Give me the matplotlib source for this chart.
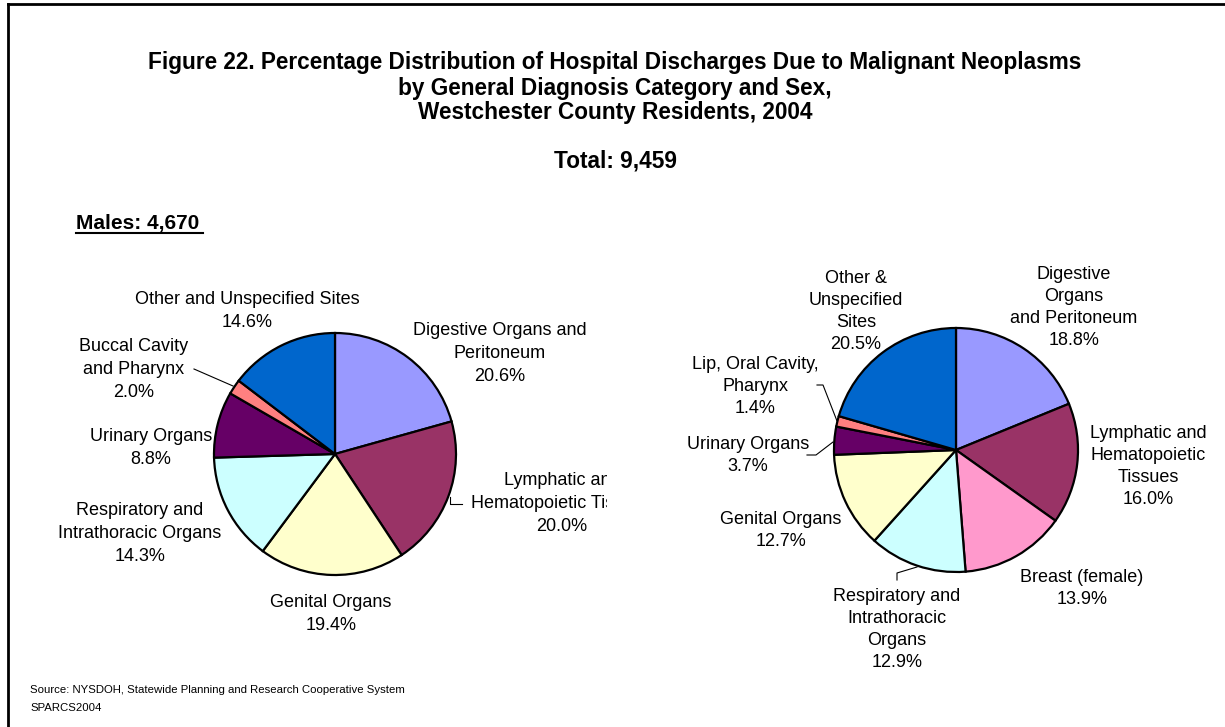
import matplotlib
matplotlib.use("Agg")
import matplotlib.pyplot as plt
from matplotlib.transforms import Affine2D, Bbox, TransformedBbox
from matplotlib.lines import Line2D

plt.rcParams['font.family'] = ['Liberation Sans', 'DejaVu Sans']

# ---------------- data ----------------
title_lines = ["Figure 22. Percentage Distribution of Hospital Discharges Due to Malignant Neoplasms",
               "by General Diagnosis Category and Sex,",
               "Westchester County Residents, 2004"]
total_text = "Total: 9,459"
males_text = "Males: 4,670"
source_lines = ["Source: NYSDOH, Statewide Planning and Research Cooperative System", "SPARCS2004"]

male_categories = ["Digestive Organs and\nPeritoneum", "Lymphatic and\nHematopoietic Tissues",
                   "Genital Organs", "Respiratory and\nIntrathoracic Organs", "Urinary Organs",
                   "Buccal Cavity\nand Pharynx", "Other and Unspecified Sites"]
male_values = [20.6, 20.0, 19.4, 14.3, 8.8, 2.0, 14.6]

female_categories = ["Digestive\nOrgans\nand Peritoneum", "Lymphatic and\nHematopoietic\nTissues",
                     "Breast (female)", "Respiratory and\nIntrathoracic\nOrgans", "Genital Organs",
                     "Urinary Organs", "Lip, Oral Cavity,\nPharynx", "Other &\nUnspecified\nSites"]
female_values = [18.8, 16.0, 13.9, 12.9, 12.7, 3.7, 1.4, 20.5]

# ---------------- styles / layout ----------------
male_colors = ["#9999FF", "#993366", "#FFFFCC", "#CCFFFF", "#660066", "#FF8080", "#0066CC"]
female_colors = ["#9999FF", "#993366", "#FF99CC", "#CCFFFF", "#FFFFCC", "#660066", "#FF8080", "#0066CC"]

W, H = 1225, 727
fig = plt.figure(figsize=(W / 100, H / 100), dpi=100)
fig.patch.set_facecolor("white")
P = Affine2D().scale(1.0 / W, -1.0 / H).translate(0, 1) + fig.transFigure  # pixel coords, top-left origin

# frame
fig.add_artist(Line2D([8, W + 5], [4, 4], transform=P, color="black", lw=2))
fig.add_artist(Line2D([8, 8], [4, H + 5], transform=P, color="black", lw=2))

# title
TFS = 16.3
for i, line in enumerate(title_lines):
    fig.text(615, 63 + 25 * i, line, transform=P, ha="center", va="center",
             fontsize=TFS, fontweight="bold")
fig.text(615, 161, total_text, transform=P, ha="center", va="center", fontsize=TFS, fontweight="bold")

# males header
fig.text(76, 223, males_text, transform=P, ha="left", va="center", fontsize=15,
         fontweight="bold")
fig.add_artist(Line2D([76, 203], [233, 233], transform=P, color="black", lw=1.5))

# source
fig.text(30, 690, source_lines[0], transform=P, ha="left", va="center", fontsize=8.2)
fig.text(30, 708, source_lines[1], transform=P, ha="left", va="center", fontsize=8.2)


def make_pie(cx, cy, r, values, colors):
    ax = fig.add_axes([(cx - r) / W, 1 - (cy + r) / H, 2 * r / W, 2 * r / H])
    wedges, _ = ax.pie(values, colors=colors, startangle=90, counterclock=False, radius=1,
                       wedgeprops=dict(edgecolor="black", linewidth=1.6))
    for w in wedges:
        w.set_clip_on(False)
    ax.set_xlim(-1, 1)
    ax.set_ylim(-1, 1)
    ax.set_aspect("equal")
    ax.axis("off")
    return ax


make_pie(335, 454, 121, male_values, male_colors)
make_pie(956, 450, 122, female_values, female_colors)

LFS = 13

# male labels (x center, y of first line center)
male_label_pos = [(500, 329), (562, 479), (331, 601), (140, 509), (151, 435), (134, 345), (247, 298)]
clip = TransformedBbox(Bbox.from_extents(0, 0, 607 / W, 1), fig.transFigure)
for cat, val, (x, y) in zip(male_categories, male_values, male_label_pos):
    txt = cat + "\n" + f"{val:.1f}%"
    t = fig.text(x, y - 7, txt, transform=P, ha="center", va="top", fontsize=LFS,
                 linespacing=1.48)
    t.set_clip_box(clip)
    t.set_clip_on(True)

# male leader lines
fig.add_artist(Line2D([194, 233], [369, 386], transform=P, color="black", lw=0.8))
fig.add_artist(Line2D([450, 450, 462], [497, 504, 504], transform=P, color="black", lw=0.8))

# female labels
female_label_pos = [(1074, 273), (1148, 432), (1082, 576), (897, 595), (781, 518), (748, 443),
                    (755, 363), (856, 277)]
for cat, val, (x, y) in zip(female_categories, female_values, female_label_pos):
    txt = cat + "\n" + f"{val:.1f}%"
    fig.text(x, y - 7, txt, transform=P, ha="center", va="top", fontsize=LFS,
             linespacing=1.39)

# female leader lines
fig.add_artist(Line2D([897, 897, 917], [580, 573, 567], transform=P, color="black", lw=0.8))
fig.add_artist(Line2D([807, 816, 833], [455, 455, 442], transform=P, color="black", lw=0.8))
fig.add_artist(Line2D([817, 823, 837], [385, 385, 421], transform=P, color="black", lw=0.8))

fig.savefig("out.png", dpi=100, facecolor="white")
